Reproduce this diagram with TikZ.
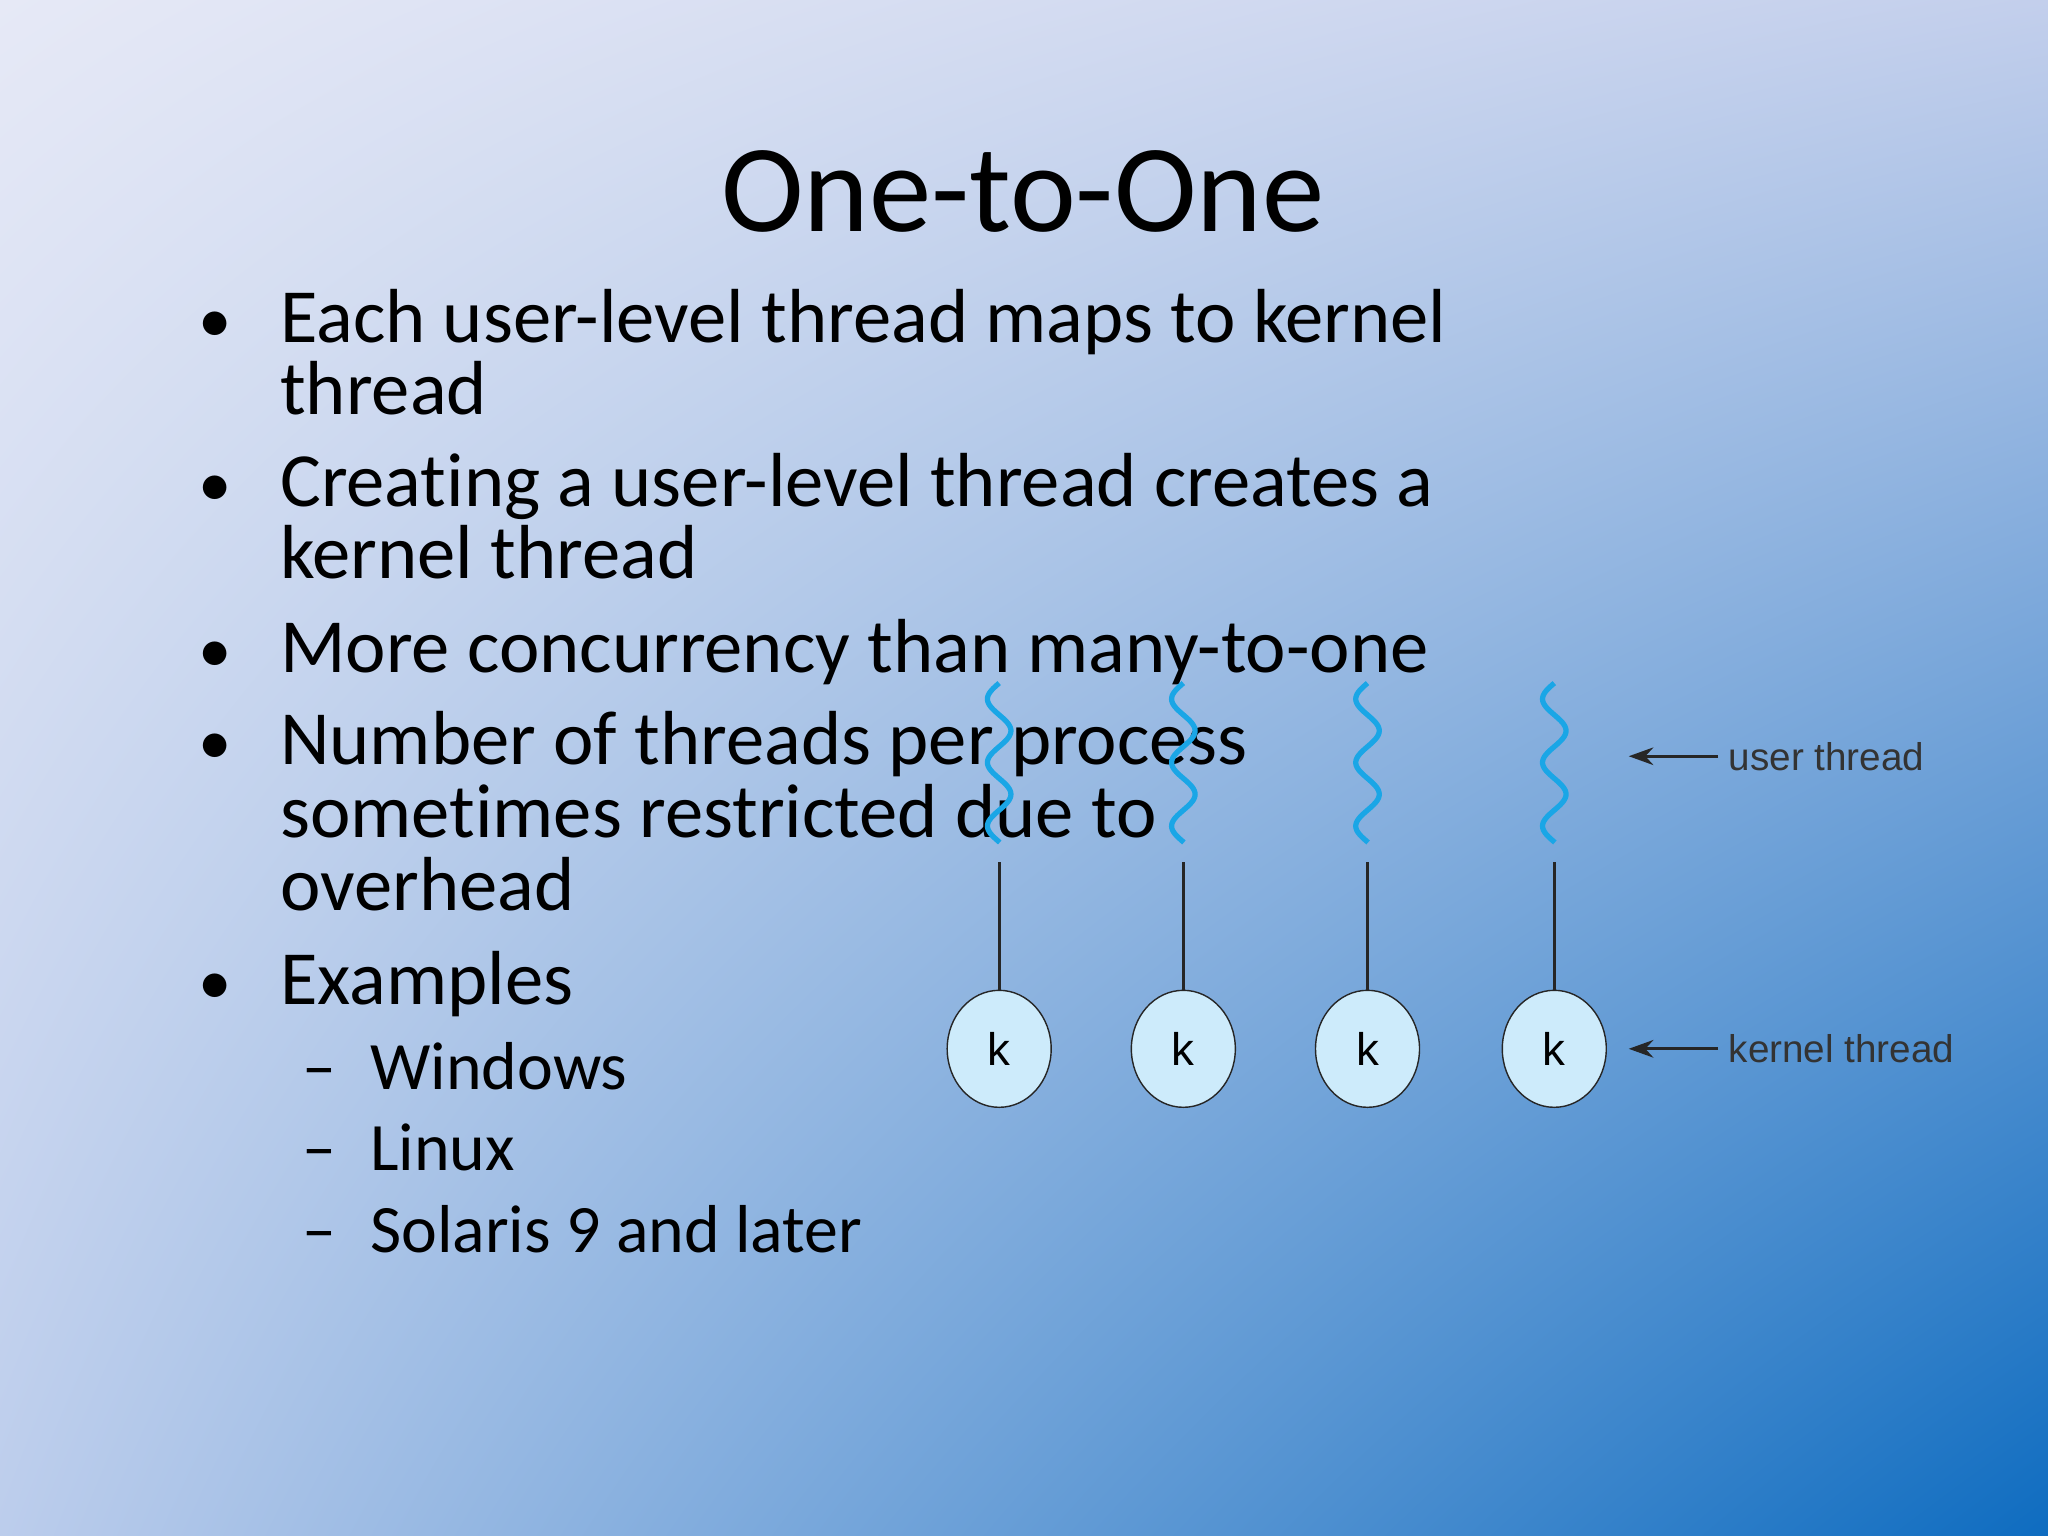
\documentclass[tikz,border=0pt]{standalone}
\usepackage{fontspec}
\setmainfont[Ligatures=CommonOff]{Carlito}
\newfontfamily\arialf{Liberation Sans}
\usetikzlibrary{shapes.geometric,arrows.meta,shadings}
\definecolor{bgA}{HTML}{E6E9F6}
\definecolor{bgB}{HTML}{C3CFEC}
\definecolor{bgC}{HTML}{BCCDEC}
\definecolor{bgD}{HTML}{0E6CC0}
\definecolor{wave}{HTML}{1AA6E6}
\definecolor{kfill}{HTML}{CDEBFB}
\tikzset{
  bul/.style={anchor=base west,font=\fontsize{21.8}{24}\selectfont,inner sep=0},
  sub/.style={anchor=base west,font=\fontsize{19.3}{22}\selectfont,inner sep=0},
  kn/.style={draw=black!85,fill=kfill,ellipse,minimum width=1.04cm,minimum height=1.17cm,inner sep=0,font=\arialf\fontsize{13}{15}\selectfont},
  lab/.style={anchor=west,font=\arialf\fontsize{11}{13}\selectfont,text=black!80,inner sep=0},
  wv/.style={wave,line width=1.5pt},
  conn/.style={black!85,line width=0.9pt}
}
\begin{document}
\begin{tikzpicture}[x=0.013061cm,y=-0.013061cm]
\useasboundingbox (0,0) rectangle (1568,1176);
\shade[upper left=bgA,upper right=bgB,lower left=bgC,lower right=bgD] (0,0) rectangle (1568,1176);
\node[anchor=base,font=\fontsize{35.5}{38}\selectfont,inner sep=0] (title) at (783,177) {One-to-One};
\foreach \y/\t [count=\i] in {262/Each user-level thread maps to kernel, 388/Creating a user-level thread creates a, 515/More concurrency than many-to-one, 585/Number of threads per process, 769/Examples}
  \node[bul] (b\i) at (214,\y) {\t};
\foreach \y [count=\i] in {262,388,515,585,769}
  \node[anchor=base,font=\fontsize{19}{20}\selectfont,inner sep=0] (d\i) at (165,\y) {•};
\node[bul] (c1) at (214,317) {thread};
\node[bul] (c2) at (214,443) {kernel thread};
\node[bul] (c3) at (214,641) {sometimes restricted due to};
\node[bul] (c4) at (214,697) {overhead};
\foreach \y/\t [count=\i] in {834/Windows,896/Linux,959/Solaris 9 and later}{
  \node[sub] (s\i) at (283,\y) {\t};
  \node[sub] (m\i) at (231,\y) {–};
}
\foreach \xc in {765,906,1047,1190}{
  \draw[wv] plot[variable=\t,domain=523:645,samples=90,smooth] ({\xc-9*sin((\t-523)*7.4)},\t);
}
\foreach \xc [count=\i] in {765,906,1047,1190}{
  \coordinate (t\i) at (\xc,660);
  \node[kn] (k\i) at (\xc,803) {k};
  \draw[conn] (t\i) -- (k\i);
}
\node[lab] (ul) at (1323,579) {user thread};
\node[lab] (kl) at (1323,803) {kernel thread};
\coordinate (ua) at (1247,579);
\coordinate (ka) at (1247,803);
\draw[conn,-{Stealth[length=7pt,width=5pt]}] ([xshift=-0.1cm]ul.west) -- (ua);
\draw[conn,-{Stealth[length=7pt,width=5pt]}] ([xshift=-0.1cm]kl.west) -- (ka);
\end{tikzpicture}
\end{document}
